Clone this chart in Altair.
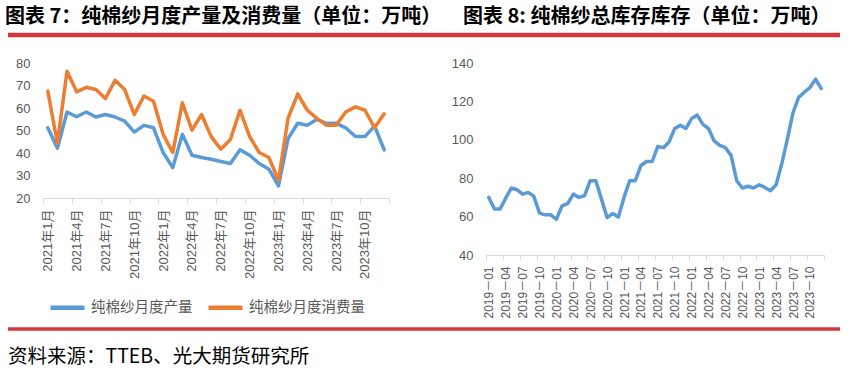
import json
import altair as alt
import pandas as pd

# ---------------- data ----------------
LEFT_TITLE = "图表 7：纯棉纱月度产量及消费量（单位：万吨）"
RIGHT_TITLE = "图表 8: 纯棉纱总库存库存（单位：万吨）"
SOURCE = "资料来源：TTEB、光大期货研究所"

SERIES = ["纯棉纱月度产量", "纯棉纱月度消费量"]

# 2021-01 .. 2023-12
production = [51.2, 42.1, 58.2, 56.1, 58.2, 56.0, 57.1, 56.0, 54.2, 49.3, 52.3, 51.2,
              40.2, 33.5, 48.3, 39.0, 38.0, 37.2, 36.2, 35.3, 41.4, 39.0, 35.3, 32.8,
              25.4, 46.4, 53.2, 52.3, 55.0, 53.2, 53.2, 51.2, 47.3, 47.3, 52.0, 41.4]
consumption = [67.5, 44.3, 76.3, 67.2, 69.2, 68.2, 64.2, 72.3, 68.2, 57.1, 65.3, 63.0,
               48.3, 40.2, 62.3, 50.2, 57.1, 47.3, 41.7, 46.0, 59.0, 47.3, 40.2, 38.0,
               27.9, 55.4, 66.3, 59.0, 55.4, 52.3, 52.3, 58.2, 60.5, 59.0, 51.2, 57.4]
left_tick_labels = ["2021年1月", "2021年4月", "2021年7月", "2021年10月",
                    "2022年1月", "2022年4月", "2022年7月", "2022年10月",
                    "2023年1月", "2023年4月", "2023年7月", "2023年10月"]

# 2019-01 .. 2023-12
inventory = [70.0, 63.9, 63.9, 69.6, 74.9, 74.0, 71.7, 72.6, 70.5, 61.8, 60.9, 60.9,
             58.6, 65.6, 66.8, 71.7, 70.0, 70.9, 78.7, 78.7, 69.1, 59.5, 61.6, 59.8,
             70.0, 78.7, 78.7, 86.6, 88.7, 88.7, 96.6, 95.9, 98.9, 105.9, 107.6, 105.9,
             111.1, 112.9, 108.0, 105.9, 99.4, 97.1, 95.9, 91.9, 78.7, 74.9, 75.8, 74.9,
             76.6, 75.2, 73.5, 76.6, 87.5, 100.3, 114.1, 122.1, 124.8, 127.2, 131.6, 126.7]
right_tick_labels = [f"{y}－{m}" for y in range(2019, 2024) for m in ["01", "04", "07", "10"]]

left_y_ticks = [20, 30, 40, 50, 60, 70, 80]
right_y_ticks = [40, 60, 80, 100, 120, 140]

BLUE = "#5B9BD5"
ORANGE = "#ED7D31"
RED = "#d6363c"
GREY = "#595959"
AXIS_GREY = "#d9d9d9"
CJK = "Noto Sans CJK SC"
NUM = "Liberation Sans, Noto Sans CJK SC"

# ---------------- tables ----------------
n_left = len(production)
df_left = pd.DataFrame({
    "idx": list(range(n_left)) * 2,
    "value": production + consumption,
    "series": [SERIES[0]] * n_left + [SERIES[1]] * n_left,
    "ord": [0] * n_left + [1] * n_left,
})
n_right = len(inventory)
df_right = pd.DataFrame({"idx": list(range(n_right)), "value": inventory})

LW, LH = 346, 135
RW, RH = 338, 192

left_ticks = [-0.5 + 3 * k for k in range(len(left_tick_labels) + 1)]
right_ticks = [-0.5 + 3 * k for k in range(len(right_tick_labels) + 1)]


def x_axis(ticks, labels, offset, size):
    return alt.Axis(
        values=ticks,
        labelExpr=f"{json.dumps(labels, ensure_ascii=False)}[round((datum.value + 0.5) / 3)] || ''",
        labelAngle=270, labelOffset=offset, labelPadding=6,
        labelFontSize=size, labelFont=NUM, labelColor=GREY,
        labelOverlap=False, labelFlush=False, labelBound=False,
        domainColor=AXIS_GREY, tickColor=AXIS_GREY, tickSize=5,
        grid=False, title=None,
    )


def y_axis(ticks):
    return alt.Axis(values=ticks, domain=False, ticks=False, grid=False,
                    labelPadding=13, labelFontSize=13, labelFont=NUM,
                    labelColor=GREY, title=None)


one = pd.DataFrame({"t": [0]})

# ---------------- left chart ----------------
left_lines = alt.Chart(df_left).mark_line(strokeWidth=3.5, strokeJoin="round", strokeCap="round").encode(
    x=alt.X("idx:Q", scale=alt.Scale(domain=[-0.5, n_left - 0.5], nice=False, zero=False),
            axis=x_axis(left_ticks, left_tick_labels, LW / n_left / 2, 13)),
    y=alt.Y("value:Q", scale=alt.Scale(domain=[20, 80], nice=False, zero=False),
            axis=y_axis(left_y_ticks)),
    color=alt.Color("series:N", scale=alt.Scale(domain=SERIES, range=[BLUE, ORANGE]),
                    legend=alt.Legend(orient="none", legendX=5, legendY=225,
                                      direction="horizontal", symbolType="stroke",
                                      symbolSize=1156, symbolStrokeWidth=4.5,
                                      labelFontSize=14.5, labelFont=CJK, labelColor=GREY,
                                      labelOffset=4, columnPadding=6, title=None)),
    order=alt.Order("ord:Q"),
)

left_title = alt.Chart(pd.DataFrame({"t": [LEFT_TITLE]})).mark_text(
    align="left", baseline="top", fontSize=20, fontWeight="bold", font=CJK, color="black"
).encode(text="t:N", x=alt.value(-38), y=alt.value(-56))

top_rule = alt.Chart(one).mark_rule(color=RED, strokeWidth=4.5).encode(
    x=alt.value(-35), x2=alt.value(797), y=alt.value(-28))
bottom_rule = alt.Chart(one).mark_rule(color=RED, strokeWidth=3.5).encode(
    x=alt.value(-35), x2=alt.value(797), y=alt.value(266))

source = alt.Chart(pd.DataFrame({"t": [SOURCE]})).mark_text(
    align="left", baseline="middle", fontSize=19.5, font=CJK, color="black"
).encode(text="t:N", x=alt.value(-35), y=alt.value(294))

left = alt.layer(left_lines, left_title, top_rule, bottom_rule, source).properties(width=LW, height=LH)

# ---------------- right chart ----------------
right_line = alt.Chart(df_right).mark_line(color=BLUE, strokeWidth=3.5, strokeJoin="round", strokeCap="round").encode(
    x=alt.X("idx:Q", scale=alt.Scale(domain=[-0.5, n_right - 0.5], nice=False, zero=False),
            axis=x_axis(right_ticks, right_tick_labels, RW / n_right / 2, 12)),
    y=alt.Y("value:Q", scale=alt.Scale(domain=[40, 140], nice=False, zero=False),
            axis=y_axis(right_y_ticks)),
)
right_title = alt.Chart(pd.DataFrame({"t": [RIGHT_TITLE]})).mark_text(
    align="left", baseline="top", fontSize=20, fontWeight="bold", font=CJK, color="black"
).encode(text="t:N", x=alt.value(-23), y=alt.value(-56))

right = alt.layer(right_line, right_title).properties(width=RW, height=RH)

chart = alt.hconcat(left, right, spacing=97, bounds="flush").properties(
    padding={"left": 5, "top": 7, "right": 4, "bottom": 10},
    background="white",
).configure_view(strokeWidth=0)

chart.save("out.html", embed_options={"renderer": "svg", "actions": False})
